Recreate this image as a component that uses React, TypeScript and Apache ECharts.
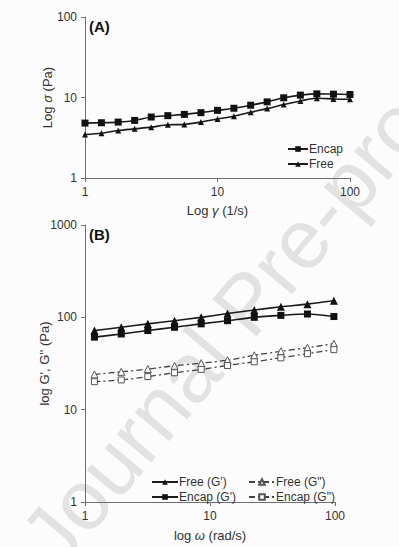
import React, { useEffect, useRef } from "react";
import * as echarts from "echarts";

// Panel A: shear rate (1/s) vs shear stress (Pa)
const shearRate = [1, 1.33, 1.78, 2.37, 3.16, 4.22, 5.62, 7.5, 10, 13.3, 17.8, 23.7, 31.6, 42.2, 56.2, 75, 100];
const encapStress = [4.81, 4.86, 4.95, 5.19, 5.72, 5.95, 6.17, 6.48, 6.92, 7.35, 8.02, 8.82, 9.91, 10.7, 11.1, 11.0, 10.9];
const freeStress = [3.47, 3.6, 3.89, 4.08, 4.28, 4.58, 4.63, 4.95, 5.4, 5.84, 6.55, 7.28, 8.18, 9.07, 9.8, 9.6, 9.5];

// Panel B: angular frequency (rad/s) vs moduli (Pa)
const omega = [1.19, 1.95, 3.18, 5.2, 8.5, 13.8, 22.6, 36.9, 60.2, 98];
const freeGp = [72, 78, 85, 92, 100, 110, 120, 130, 139, 151];
const encapGp = [61, 66, 72, 78, 85, 92, 100, 105, 108.6, 102];
const freeGpp = [24.1, 25.7, 27.5, 29.9, 31.9, 34.3, 38.8, 42.9, 46.9, 51.8];
const encapGpp = [20.1, 21, 22.8, 25.1, 27.3, 30.1, 33, 36.4, 40.4, 44.7];

const tickLabelsA = ["1", "10", "100"];
const tickLabelsB = ["1", "10", "100", "1000"];

const FONT = "Liberation Sans, Arial, sans-serif";

function pair(x: number[], y: number[]) {
  return x.map((v, i) => [v, y[i]]);
}

export default function App() {
  const ref = useRef<HTMLDivElement>(null);
  useEffect(() => {
    if (!ref.current) return;
    const chart = echarts.init(ref.current, undefined, { renderer: "svg" });
    const axisCommon = {
      type: "log" as const,
      logBase: 10,
      nameMoveOverlap: false,
      axisLine: { show: true, lineStyle: { color: "#6e6e6e", width: 1 } },
      axisTick: { show: true, inside: false, length: 4, lineStyle: { color: "#6e6e6e" } },
      splitLine: { show: false },
      minorTick: { show: false },
      axisLabel: { color: "#333", fontSize: 12, fontFamily: FONT },
      nameTextStyle: { color: "#333", fontSize: 13, fontFamily: FONT, rich: { i: { fontStyle: "italic", fontSize: 13, fontFamily: FONT, color: "#333" } } },
    };
    const solid = { color: "#1a1a1a", width: 1.6 };
    const dashed = { color: "#444", width: 1.3, type: [6, 3, 2, 3] as any };
    chart.setOption({
      animation: false,
      backgroundColor: "#fcfcfc",
      graphic: [
        {
          type: "text",
          z: -10,
          silent: true,
          x: 38,
          y: 552,
          rotation: (50 * Math.PI) / 180,
          style: {
            text: "Journal Pre-proof",
            fill: "#e2e2e2",
            fontSize: 84,
            fontFamily: FONT,
            align: "left",
            verticalAlign: "middle",
          },
        },
        { type: "text", left: 89, top: 19, z: 10, style: { text: "(A)", fontSize: 15, fontWeight: "bold", fill: "#111", fontFamily: FONT } },
        { type: "text", left: 89, top: 227, z: 10, style: { text: "(B)", fontSize: 15, fontWeight: "bold", fill: "#111", fontFamily: FONT } },
      ],
      grid: [
        { left: 85, top: 17, width: 265, height: 161 },
        { left: 85, top: 225, width: 250, height: 280 },
      ],
      xAxis: [
        {
          ...axisCommon,
          gridIndex: 0,
          min: 1,
          max: 100,
          name: "Log {i|γ} (1/s)",
          nameLocation: "middle",
          nameGap: 26,
          axisLabel: { ...axisCommon.axisLabel, formatter: (v: number) => tickLabelsA[Math.round(Math.log10(v))] },
        },
        {
          ...axisCommon,
          gridIndex: 1,
          min: 1,
          max: 100,
          name: "log {i|ω} (rad/s)",
          nameLocation: "middle",
          nameGap: 27,
          axisLabel: { ...axisCommon.axisLabel, formatter: (v: number) => tickLabelsB[Math.round(Math.log10(v))] },
        },
      ],
      yAxis: [
        {
          ...axisCommon,
          gridIndex: 0,
          min: 1,
          max: 100,
          name: "Log {i|σ} (Pa)",
          nameLocation: "middle",
          nameGap: 31,
          axisLabel: { ...axisCommon.axisLabel, formatter: (v: number) => tickLabelsA[Math.round(Math.log10(v))] },
        },
        {
          ...axisCommon,
          gridIndex: 1,
          min: 1,
          max: 1000,
          name: "log G', G'' (Pa)",
          nameLocation: "middle",
          nameGap: 34,
          axisLabel: { ...axisCommon.axisLabel, formatter: (v: number) => tickLabelsB[Math.round(Math.log10(v))] },
        },
      ],
      legend: [
        {
          data: ["Encap", "Free"],
          orient: "vertical",
          left: 287,
          top: 143,
          itemWidth: 20,
          itemHeight: 7,
          itemGap: 3,
          padding: 0,
          textStyle: { fontSize: 12, color: "#333", fontFamily: FONT, padding: [0, 0, 0, -4] },
        },
        {
          data: ["Free (G')", "Encap (G')"],
          orient: "vertical",
          left: 151,
          top: 476,
          itemWidth: 26,
          itemHeight: 7,
          itemGap: 3,
          padding: 0,
          textStyle: { fontSize: 12, color: "#333", fontFamily: FONT, padding: [0, 0, 0, -4] },
        },
        {
          data: ['Free (G")', 'Encap (G")'],
          orient: "vertical",
          left: 248,
          top: 476,
          itemWidth: 26,
          itemHeight: 7,
          itemGap: 3,
          padding: 0,
          textStyle: { fontSize: 12, color: "#333", fontFamily: FONT, padding: [0, 0, 0, -4] },
        },
      ],
      series: [
        {
          name: "Encap",
          type: "line",
          xAxisIndex: 0,
          yAxisIndex: 0,
          data: pair(shearRate, encapStress),
          smooth: 0.3,
          symbol: "rect",
          symbolSize: 7,
          itemStyle: { color: "#111" },
          lineStyle: solid,
        },
        {
          name: "Free",
          type: "line",
          xAxisIndex: 0,
          yAxisIndex: 0,
          data: pair(shearRate, freeStress),
          smooth: 0.3,
          symbol: "triangle",
          symbolSize: 6,
          itemStyle: { color: "#111" },
          lineStyle: solid,
        },
        {
          name: "Free (G')",
          type: "line",
          xAxisIndex: 1,
          yAxisIndex: 1,
          data: pair(omega, freeGp),
          smooth: 0.3,
          symbol: "triangle",
          symbolSize: 8,
          itemStyle: { color: "#111" },
          lineStyle: solid,
        },
        {
          name: "Encap (G')",
          type: "line",
          xAxisIndex: 1,
          yAxisIndex: 1,
          data: pair(omega, encapGp),
          smooth: 0.3,
          symbol: "rect",
          symbolSize: 7,
          itemStyle: { color: "#111" },
          lineStyle: solid,
        },
        {
          name: 'Free (G")',
          type: "line",
          xAxisIndex: 1,
          yAxisIndex: 1,
          data: pair(omega, freeGpp),
          smooth: 0.3,
          symbol: "triangle",
          symbolSize: 7,
          itemStyle: { color: "#fff", borderColor: "#555", borderWidth: 1 },
          lineStyle: dashed,
        },
        {
          name: 'Encap (G")',
          type: "line",
          xAxisIndex: 1,
          yAxisIndex: 1,
          data: pair(omega, encapGpp),
          smooth: 0.3,
          symbol: "rect",
          symbolSize: 6,
          itemStyle: { color: "#fff", borderColor: "#555", borderWidth: 1 },
          lineStyle: dashed,
        },
      ],
    });
    return () => chart.dispose();
  }, []);
  return <div ref={ref} style={{ width: 399, height: 547, position: "absolute", left: 0, top: 0 }} />;
}
